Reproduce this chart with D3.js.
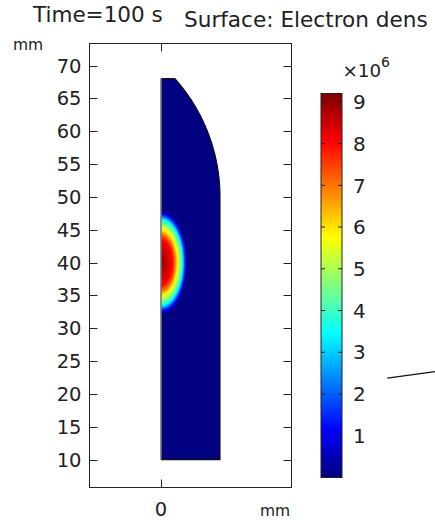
<!DOCTYPE html>
<html>
<head>
<meta charset="utf-8">
<script src="https://cdn.jsdelivr.net/npm/d3@7"></script>
<style>
  html, body { margin: 0; padding: 0; background: #fff; }
  svg { display: block; font-family: "DejaVu Sans", sans-serif; }
</style>
</head>
<body>
<svg id="chart" width="435" height="520"></svg>
<script>
// ---- data (lengths in mm, density in units of 1e6 m^-3) ----
const timeLabel = "Time=100 s";
const surfaceLabel = "Surface: Electron dens";
const yTicks = [10, 15, 20, 25, 30, 35, 40, 45, 50, 55, 60, 65, 70];
const xTicks = [0];
const colorTicks = [1, 2, 3, 4, 5, 6, 7, 8, 9];
const colorRange = [0, 9.2];

// axisymmetric domain outline: top-left corner, axis, bottom, right wall, then a circular cap up to the top edge
const outlineStart = [[0, 68], [0, 10], [9, 10], [9, 50]];
const capCenter = [-18, 50];
const capRadius = 27;
const capTopY = 68;

// plasma blob: centre and semi-axes, with the density profile along the normalised radius
const blobCenter = [0, 40];
const blobRadii = [4.0, 7.9];
const profileR = [0, 0.15, 0.3, 0.44, 0.55, 0.63, 0.74, 0.83, 0.93, 1.0];
const profileN = [9.2, 8.75, 8.4, 8.0, 6.9, 5.8, 4.6, 3.45, 1.15, 0];

// thin pointer line to the right of the colour bar
const pointer = [[34.5, 22.4], [42.5, 23.5]];

// ---- layout ----
const svg = d3.select("#chart");
const frame = { left: 89.5, right: 291.5, top: 43.5, bottom: 487.5 };
const x = d3.scaleLinear().domain([-10.9, 19.9]).range([frame.left, frame.right]);
const y = d3.scaleLinear().domain([5.75, 73.35]).range([frame.bottom, frame.top]);
const ink = "#222";

// jet-style colour map on [0,1]
function jet(t) {
  t = Math.max(0, Math.min(1, t));
  const ch = v => Math.round(255 * Math.max(0, Math.min(1, v)));
  const r = ch(1.5 - Math.abs(4 * t - 3));
  const g = ch(1.5 - Math.abs(4 * t - 2));
  const b = ch(1.5 - Math.abs(4 * t - 1));
  return [r, g, b];
}
const norm = d3.scaleLinear().domain(colorRange).range([0, 1]);
const profile = d3.scaleLinear().domain(profileR).range(profileN).clamp(true);

// ---- surface field rendered to a canvas, clipped to the outline ----
const W = Math.round(frame.right - frame.left), H = Math.round(frame.bottom - frame.top);
const canvas = document.createElement("canvas");
canvas.width = W; canvas.height = H;
const ctx = canvas.getContext("2d");
const img = ctx.createImageData(W, H);
for (let j = 0; j < H; j++) {
  for (let i = 0; i < W; i++) {
    const xm = x.invert(frame.left + i + 0.5);
    const ym = y.invert(frame.top + j + 0.5);
    const dx = (xm - blobCenter[0]) / blobRadii[0];
    const dy = (ym - blobCenter[1]) / blobRadii[1];
    const v = profile(Math.sqrt(dx * dx + dy * dy));
    const c = jet(norm(v));
    const k = 4 * (j * W + i);
    img.data[k] = c[0]; img.data[k + 1] = c[1]; img.data[k + 2] = c[2]; img.data[k + 3] = 255;
  }
}
ctx.putImageData(img, 0, 0);

// outline path in mm space: straight edges followed by the cap arc
const capStartAngle = Math.atan2(outlineStart[3][1] - capCenter[1], outlineStart[3][0] - capCenter[0]);
const capEndAngle = Math.asin((capTopY - capCenter[1]) / capRadius);
const capPts = d3.range(0, 41).map(k => {
  const a = capStartAngle + (capEndAngle - capStartAngle) * k / 40;
  return [capCenter[0] + capRadius * Math.cos(a), capCenter[1] + capRadius * Math.sin(a)];
});
const outlinePts = outlineStart.concat(capPts, [outlineStart[0]]);
const line = d3.line().x(d => x(d[0])).y(d => y(d[1]));

const defs = svg.append("defs");
defs.append("clipPath").attr("id", "domainClip")
  .append("path").attr("d", line(outlinePts) + "Z");

svg.append("image")
  .attr("x", frame.left).attr("y", frame.top)
  .attr("width", W).attr("height", H)
  .attr("preserveAspectRatio", "none")
  .attr("href", canvas.toDataURL())
  .attr("clip-path", "url(#domainClip)");

// outline: symmetry axis in grey, other boundaries dark
svg.append("path")
  .attr("d", line(outlinePts.slice(1)))
  .attr("fill", "none").attr("stroke", "#111").attr("stroke-width", 1.1);
svg.append("path")
  .attr("d", line([outlinePts[0], outlinePts[1]]))
  .attr("fill", "none").attr("stroke", "#777").attr("stroke-width", 1.6);

// ---- axes frame and ticks ----
svg.append("rect")
  .attr("x", frame.left).attr("y", frame.top)
  .attr("width", frame.right - frame.left).attr("height", frame.bottom - frame.top)
  .attr("fill", "none").attr("stroke", ink).attr("stroke-width", 1);

const tickLen = 8;
const yt = svg.append("g");
yt.selectAll("line.l").data(yTicks).join("line")
  .attr("x1", frame.left).attr("x2", frame.left + tickLen)
  .attr("y1", d => Math.round(y(d)) + 0.5).attr("y2", d => Math.round(y(d)) + 0.5)
  .attr("stroke", ink);
yt.selectAll("line.r").data(yTicks).join("line")
  .attr("x1", frame.right - tickLen).attr("x2", frame.right)
  .attr("y1", d => Math.round(y(d)) + 0.5).attr("y2", d => Math.round(y(d)) + 0.5)
  .attr("stroke", ink);
yt.selectAll("text").data(yTicks).join("text")
  .attr("x", 81.5).attr("y", d => y(d))
  .attr("dy", "0.36em")
  .attr("text-anchor", "end")
  .attr("font-size", 19.5).attr("fill", ink)
  .text(d => d);

const xt = svg.append("g");
xt.selectAll("line.b").data(xTicks).join("line")
  .attr("x1", d => Math.round(x(d)) + 0.5).attr("x2", d => Math.round(x(d)) + 0.5)
  .attr("y1", frame.bottom - tickLen).attr("y2", frame.bottom)
  .attr("stroke", ink);
xt.selectAll("line.t").data(xTicks).join("line")
  .attr("x1", d => Math.round(x(d)) + 0.5).attr("x2", d => Math.round(x(d)) + 0.5)
  .attr("y1", frame.top).attr("y2", frame.top + tickLen)
  .attr("stroke", ink);
xt.selectAll("text").data(xTicks).join("text")
  .attr("x", d => x(d)).attr("y", 515.5)
  .attr("text-anchor", "middle")
  .attr("font-size", 19.5).attr("fill", ink)
  .text(d => d);

// unit labels
svg.append("text").attr("x", 13).attr("y", 49.5)
  .attr("font-size", 15.5).attr("fill", ink).text("mm");
svg.append("text").attr("x", 260).attr("y", 516)
  .attr("font-size", 15.5).attr("fill", ink).text("mm");

// titles
svg.append("text").attr("x", 33).attr("y", 22)
  .attr("font-size", 21.5).attr("fill", ink).text(timeLabel);
svg.append("text").attr("x", 184).attr("y", 27)
  .attr("font-size", 21.6).attr("fill", ink).text(surfaceLabel);

// ---- colour bar ----
const cb = { left: 321, right: 342, top: 93.5, bottom: 477.5 };
const cy = d3.scaleLinear().domain(colorRange).range([cb.bottom, cb.top]);
const grad = defs.append("linearGradient").attr("id", "cbGrad")
  .attr("x1", 0).attr("y1", 1).attr("x2", 0).attr("y2", 0);
grad.selectAll("stop").data(d3.range(0, 65)).join("stop")
  .attr("offset", k => k / 64)
  .attr("stop-color", k => { const c = jet(k / 64); return `rgb(${c[0]},${c[1]},${c[2]})`; });

svg.append("rect")
  .attr("x", cb.left).attr("y", cb.top)
  .attr("width", cb.right - cb.left).attr("height", cb.bottom - cb.top)
  .attr("fill", "url(#cbGrad)").attr("stroke", ink).attr("stroke-width", 1);

const cbt = svg.append("g");
cbt.selectAll("line.l").data(colorTicks).join("line")
  .attr("x1", cb.left).attr("x2", cb.left + 4)
  .attr("y1", d => cy(d)).attr("y2", d => cy(d))
  .attr("stroke", ink).attr("stroke-width", 1);
cbt.selectAll("line.r").data(colorTicks).join("line")
  .attr("x1", cb.right - 4).attr("x2", cb.right)
  .attr("y1", d => cy(d)).attr("y2", d => cy(d))
  .attr("stroke", ink).attr("stroke-width", 1);
cbt.selectAll("text").data(colorTicks).join("text")
  .attr("x", 353).attr("y", d => cy(d))
  .attr("dy", "0.36em")
  .attr("font-size", 20).attr("fill", ink)
  .text(d => d);

const exp = svg.append("text").attr("x", 342.5).attr("y", 77)
  .attr("font-size", 18.3).attr("fill", ink);
exp.append("tspan").text("×10");
exp.append("tspan").attr("font-size", 14).attr("dy", -10).text("6");

// pointer line
svg.append("path")
  .attr("d", line(pointer))
  .attr("fill", "none").attr("stroke", "#111").attr("stroke-width", 1.2);
</script>
</body>
</html>
